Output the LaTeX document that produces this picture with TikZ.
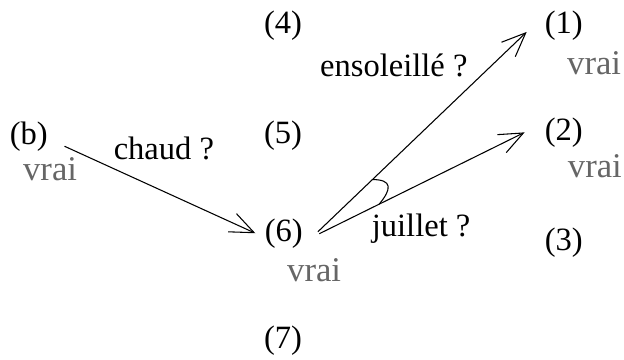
\documentclass[tikz,border=0pt]{standalone}
\usepackage{fontspec}
\setmainfont{Liberation Serif}
\usetikzlibrary{arrows.meta,positioning}

\begin{document}
\begin{tikzpicture}[font=\fontsize{12.2}{14}\selectfont,
    >={Straight Barb[length=9pt,width=7.5pt]},
    vrai/.style={anchor=base,text=black!60,font=\fontsize{13}{15}\selectfont},
    lab/.style={anchor=base}]
      \useasboundingbox (0,0) rectangle (8.224,4.744);
      \node (b) at (0.38,2.94) {(b)};
      \node (n4) at (3.73,4.40) {(4)};
      \node (n5) at (3.73,2.95) {(5)};
      \node (n6) at (3.74,1.67) {(6)};
      \node (n7) at (3.73,0.26) {(7)};
      \node (n1) at (7.43,4.40) {(1)};
      \node (n2) at (7.43,2.99) {(2)};
      \node (n3) at (7.43,1.55) {(3)};

      \node[vrai] (vb) at (0.66,2.37) {vrai};
      \node[vrai] (v6) at (4.14,1.03) {vrai};
      \node[vrai] (v1) at (7.83,3.76) {vrai};
      \node[vrai] (v2) at (7.84,2.41) {vrai};

      \draw[->,shorten <=3pt] (b.-12) -- (n6.west);
      \draw[->,shorten <=3pt,shorten >=4.5pt] (n6.-8) -- (n1.175) coordinate[pos=0.27] (a1);
      \draw[->,shorten <=3pt,shorten >=4.5pt] (n6.-8) -- (n2.168) coordinate[pos=0.30] (a2);
      \draw (a1) to[out=0,in=50,looseness=2] (a2);

      \node[lab] (chaud) at (2.16,2.64) {chaud ?};
      \node[lab] (soleil) at (5.19,3.74) {ensoleillé ?};
      \node[lab] (juillet) at (5.55,1.63) {juillet ?};
\end{tikzpicture}
\end{document}
